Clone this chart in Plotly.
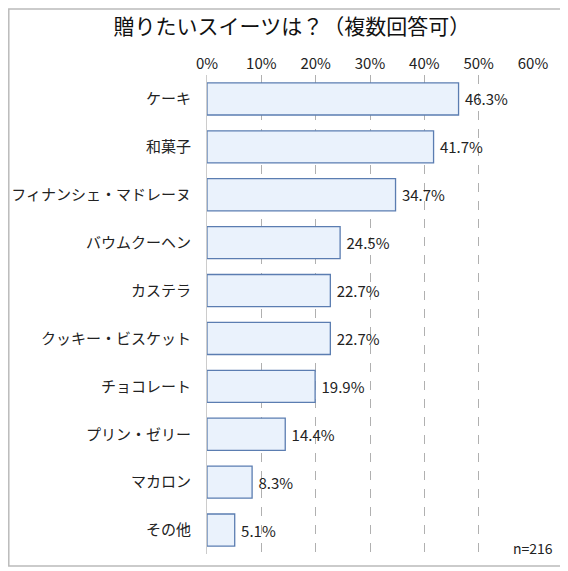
import plotly.graph_objects as go

# survey: which sweets would you like to give (multiple answers)
categories = ["ケーキ", "和菓子", "フィナンシェ・マドレーヌ", "バウムクーヘン", "カステラ",
              "クッキー・ビスケット", "チョコレート", "プリン・ゼリー", "マカロン", "その他"]
values = [46.3, 41.7, 34.7, 24.5, 22.7, 22.7, 19.9, 14.4, 8.3, 5.1]
tick_vals = [0, 10, 20, 30, 40, 50, 60]
tick_text = ["0%", "10%", "20%", "30%", "40%", "50%", "60%"]

FONT = "Noto Sans CJK JP"

fig = go.Figure(go.Bar(
    x=values, y=categories, orientation="h",
    marker=dict(color="#EAF2FC", line=dict(color="#5B7DB1", width=1.3)),
    width=0.67,
    text=[f" {v:.1f}%" for v in values], textposition="outside",
    textfont=dict(size=15, color="#222222", family=FONT),
    cliponaxis=False,
))

# page body has an 8px margin, so the figure is sized to the visible part
fig.update_layout(
    width=560, height=563,
    margin=dict(l=199, r=35, t=67, b=17, autoexpand=False),
    paper_bgcolor="white", plot_bgcolor="white",
    font=dict(family=FONT, color="#222222"),
    showlegend=False,
    title=dict(text="贈りたいスイーツは？（複数回答可）", xref="container", x=0.507,
               xanchor="center", yref="container", y=0.966, yanchor="middle",
               font=dict(size=21, color="#111111")),
    xaxis=dict(range=[0, 60], side="top", tickvals=tick_vals, ticktext=tick_text,
               tickfont=dict(size=15), showgrid=True, gridcolor="#B0B0B0",
               griddash="dash", gridwidth=1, zeroline=False, showline=False,
               ticks="", ticklabelstandoff=2, automargin=False),
    yaxis=dict(autorange="reversed", tickfont=dict(size=15), ticks="",
               showline=True, linecolor="#CCCCCC", linewidth=1, showgrid=False,
               ticklabelstandoff=12, automargin=False),
    shapes=[dict(type="rect", xref="paper", yref="paper",
                 x0=-0.608, x1=1.092, y0=-0.025, y1=1.138,
                 line=dict(color="#BBBBBB", width=1.5))],
    annotations=[dict(text="n=216", xref="paper", yref="paper", x=1.067, y=0.0125,
                      xanchor="right", yanchor="middle", showarrow=False,
                      font=dict(size=14, color="#222222"))],
)

fig.write_html("out.html")
